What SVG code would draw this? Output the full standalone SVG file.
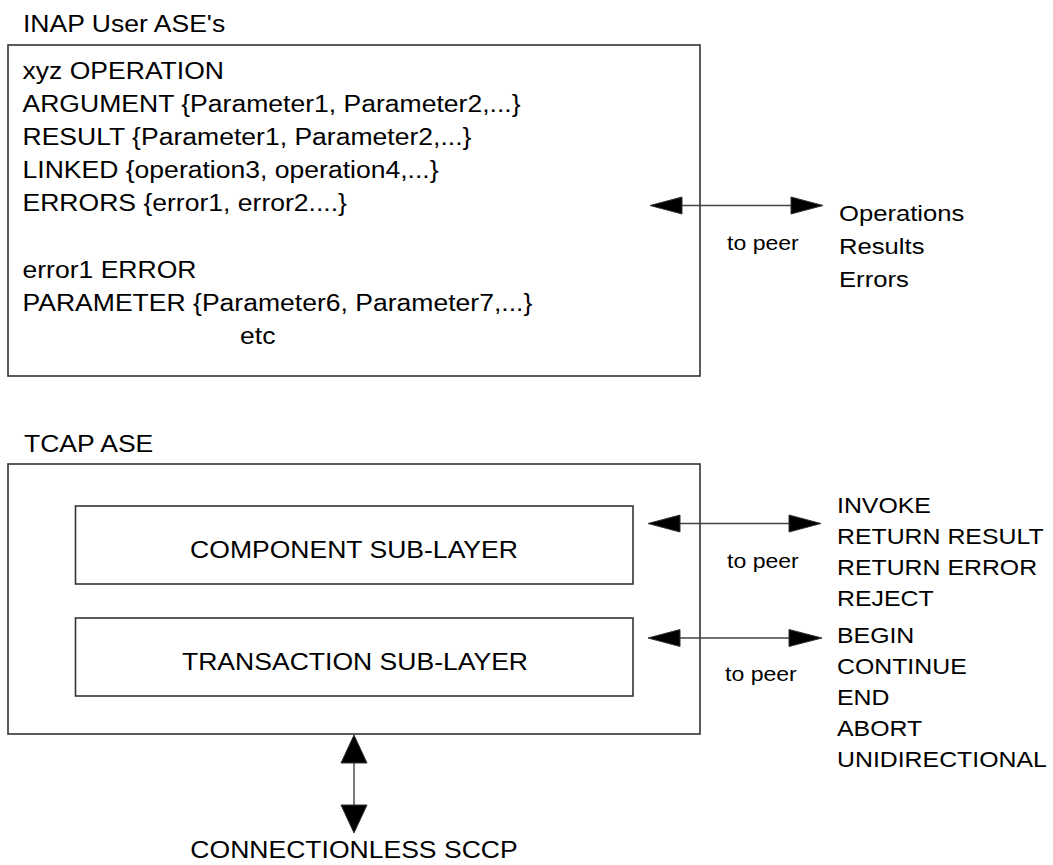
<svg xmlns="http://www.w3.org/2000/svg" width="1053" height="865" viewBox="0 0 1053 865">
<style>
  text { font-family: "Liberation Sans", Arial, sans-serif; fill: #000; }
  .t { font-size: 23.7px; }
  .r { font-size: 22.9px; }
  .l { font-size: 22.2px; }
  .p { font-size: 20.6px; }
  .box { fill: #fff; stroke: #333; stroke-width: 1.6; }
  .ln { stroke: #444; stroke-width: 1.4; fill: none; }
  .ah { fill: #000; stroke: #333; stroke-width: 1; stroke-linejoin: miter; }
</style>
<rect width="1053" height="865" fill="#fff"/>

<g id="inap-ase">
  <text class="t" transform="translate(23,32) scale(1.12,1)">INAP User ASE's</text>
  <rect class="box" x="8" y="45" width="692" height="331"/>
  <text class="t" transform="translate(22.5,78.5) scale(1.12,1)">xyz OPERATION</text>
  <text class="t" transform="translate(22.5,111.7) scale(1.12,1)">ARGUMENT {Parameter1, Parameter2,...}</text>
  <text class="t" transform="translate(22.5,144.7) scale(1.12,1)">RESULT {Parameter1, Parameter2,...}</text>
  <text class="t" transform="translate(22.5,178) scale(1.12,1)">LINKED {operation3, operation4,...}</text>
  <text class="t" transform="translate(22.5,211) scale(1.12,1)">ERRORS {error1, error2....}</text>
  <text class="t" transform="translate(22.5,278) scale(1.12,1)">error1 ERROR</text>
  <text class="t" transform="translate(22.5,311) scale(1.12,1)">PARAMETER {Parameter6, Parameter7,...}</text>
  <text class="t" transform="translate(240,344) scale(1.12,1)">etc</text>
</g>

<g id="inap-peer">
  <text class="r" transform="translate(839,221) scale(1.12,1)">Operations</text>
  <text class="r" transform="translate(839,254) scale(1.12,1)">Results</text>
  <text class="r" transform="translate(839,286.5) scale(1.12,1)">Errors</text>
</g>

<g id="tcap-ase">
  <text class="t" transform="translate(24,452.3) scale(1.12,1)">TCAP ASE</text>
  <rect class="box" x="8" y="464" width="692" height="270"/>
</g>

<g id="component-sublayer">
  <rect class="box" x="75.5" y="506" width="557.5" height="78"/>
  <text class="t" text-anchor="middle" transform="translate(354,557.7) scale(1.12,1)">COMPONENT SUB-LAYER</text>
</g>

<g id="transaction-sublayer">
  <rect class="box" x="75.5" y="618" width="557.5" height="78"/>
  <text class="t" text-anchor="middle" transform="translate(355,670) scale(1.12,1)">TRANSACTION SUB-LAYER</text>
</g>

<g id="component-peer">
  <text class="l" transform="translate(837,512.5) scale(1.12,1)">INVOKE</text>
  <text class="l" transform="translate(837,543.5) scale(1.12,1)">RETURN RESULT</text>
  <text class="l" transform="translate(837,574.5) scale(1.12,1)">RETURN ERROR</text>
  <text class="l" transform="translate(837,605.5) scale(1.12,1)">REJECT</text>
</g>

<g id="transaction-peer">
  <text class="l" transform="translate(837,643) scale(1.12,1)">BEGIN</text>
  <text class="l" transform="translate(837,674) scale(1.12,1)">CONTINUE</text>
  <text class="l" transform="translate(837,705) scale(1.12,1)">END</text>
  <text class="l" transform="translate(837,736) scale(1.12,1)">ABORT</text>
  <text class="l" transform="translate(837,767) scale(1.12,1)">UNIDIRECTIONAL</text>
</g>

<g id="sccp">
  <text class="t" text-anchor="middle" transform="translate(354,858) scale(1.12,1)">CONNECTIONLESS SCCP</text>
</g>

<g id="connectors">
  <line class="ln" x1="682" y1="205.5" x2="791" y2="205.5"/>
  <polygon class="ah" points="650,205.5 682,197 682,214"/>
  <polygon class="ah" points="823,205.5 791,197 791,214"/>
  <text class="p" transform="translate(727,250) scale(1.12,1)">to peer</text>

  <line class="ln" x1="680" y1="523.5" x2="789" y2="523.5"/>
  <polygon class="ah" points="648,523.5 680,515 680,532"/>
  <polygon class="ah" points="821,523.5 789,515 789,532"/>
  <text class="p" transform="translate(727,567.5) scale(1.12,1)">to peer</text>

  <line class="ln" x1="680" y1="638" x2="789" y2="638"/>
  <polygon class="ah" points="648,638 680,629.5 680,646.5"/>
  <polygon class="ah" points="822,638 789,629.5 789,646.5"/>
  <text class="p" transform="translate(725,681) scale(1.12,1)">to peer</text>

  <line class="ln" x1="354" y1="763" x2="354" y2="805"/>
  <polygon class="ah" points="354,735 341,763 367,763"/>
  <polygon class="ah" points="354,833 341,805 367,805"/>
</g>
</svg>
